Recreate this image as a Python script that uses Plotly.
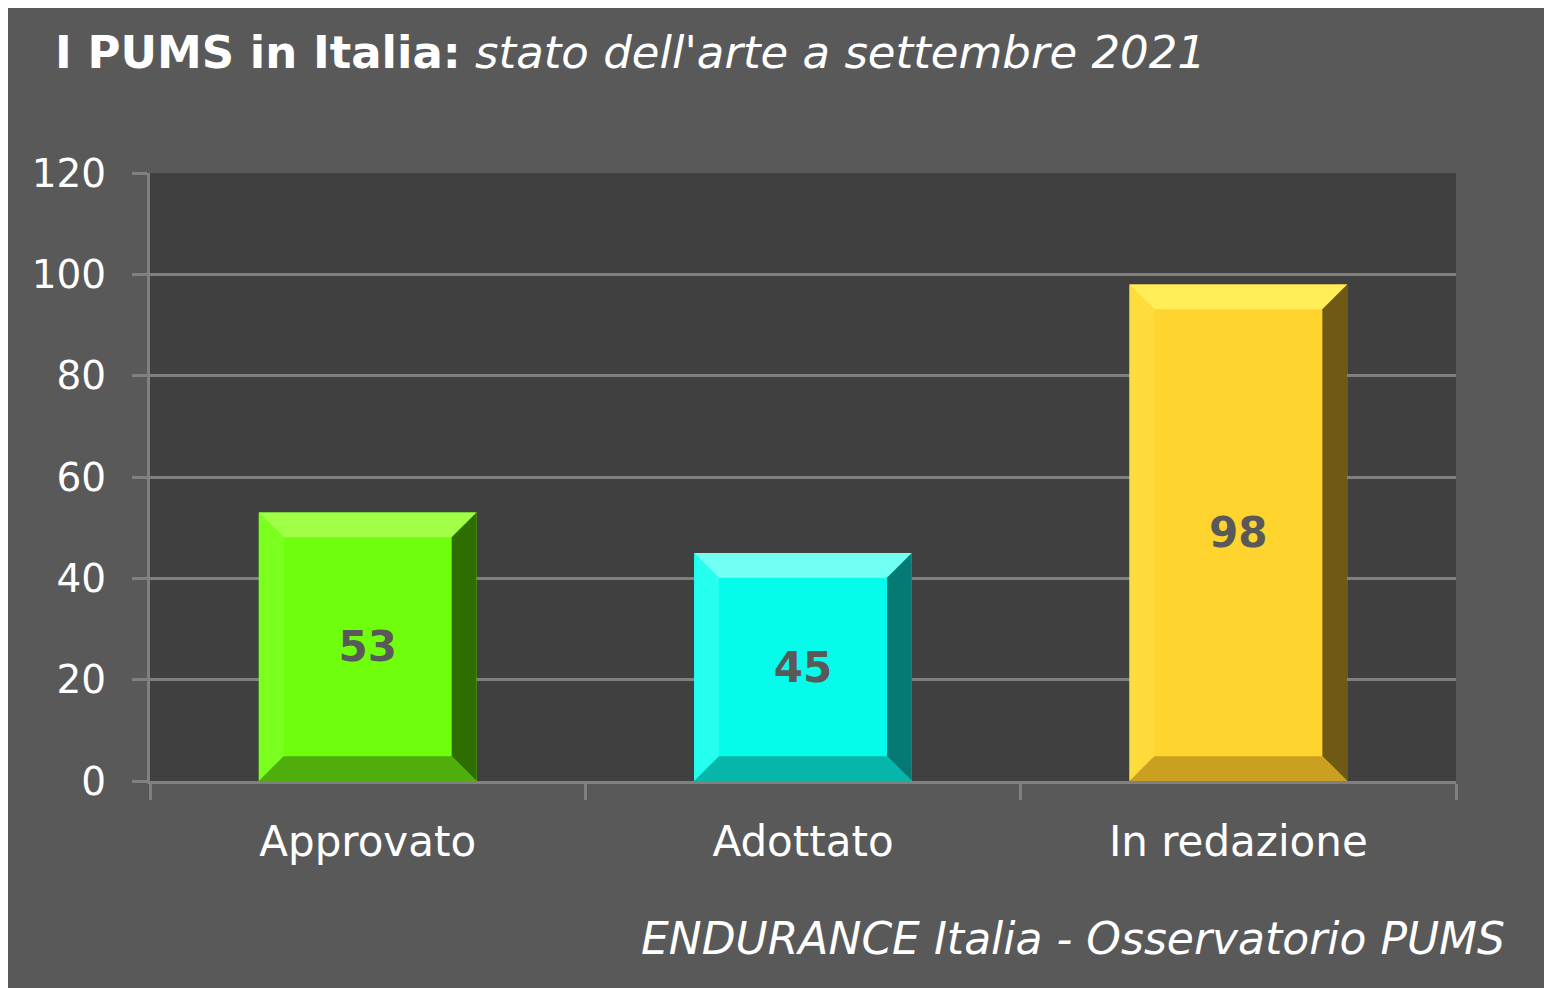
import plotly.graph_objects as go

categories = ["Approvato", "Adottato", "In redazione"]
values = [53, 45, 98]
bar_colors = ["#6FFF0C", "#05FCEA", "#FFD42E"]
top_colors = ["#A2FF48", "#72FFF4", "#FFEE58"]
side_light = ["#7AFF1E", "#25FFF0", "#FFDB3C"]
side_dark = ["#2E6E00", "#057A72", "#6E5A14"]
bottom_colors = ["#4FAE0C", "#06B6AA", "#C9A020"]
y_ticks = [0, 20, 40, 60, 80, 100, 120]

FONT = "DejaVu Sans"
BAR_W = 0.5
W, H = 1544, 980
ML, MR, MT, MB = 142, 96, 165, 207

fig = go.Figure()
fig.add_trace(go.Bar(
    x=categories, y=values, width=BAR_W,
    marker=dict(color=bar_colors, line=dict(width=0)),
    text=[str(v) for v in values], textposition="inside",
    insidetextanchor="middle",
    textfont=dict(family=FONT, size=42, color="#595959", weight="bold"),
    cliponaxis=False,
))

# bevel facets, derived from the data values
bx = 0.057   # horizontal bevel in category units
by = 4.9     # vertical bevel in value units
shapes = []
for i, v in enumerate(values):
    x0, x1 = i - BAR_W / 2, i + BAR_W / 2
    def poly(pts, col):
        d = "M " + " L ".join(f"{px},{py}" for px, py in pts) + " Z"
        return dict(type="path", xref="x", yref="y", path=d,
                    fillcolor=col, line=dict(width=0), layer="above")
    shapes.append(poly([(x0, v), (x1, v), (x1 - bx, v - by), (x0 + bx, v - by)], top_colors[i]))
    shapes.append(poly([(x0, 0), (x0, v), (x0 + bx, v - by), (x0 + bx, by)], side_light[i]))
    shapes.append(poly([(x1, 0), (x1, v), (x1 - bx, v - by), (x1 - bx, by)], side_dark[i]))
    shapes.append(poly([(x0, 0), (x1, 0), (x1 - bx, by), (x0 + bx, by)], bottom_colors[i]))

plot_w = W - ML - MR
plot_h = H - MT - MB

fig.update_layout(
    width=W, height=H,
    paper_bgcolor="#595959", plot_bgcolor="#404040",
    margin=dict(l=ML, r=MR, t=MT, b=MB),
    showlegend=False,
    shapes=shapes,
    font=dict(family=FONT, color="white"),
    title=dict(
        text="<b>I PUMS in Italia:</b> <i>stato dell'arte a settembre 2021</i>",
        x=47 / W, xanchor="left", y=1 - 44 / H, yanchor="middle",
        font=dict(family=FONT, size=45, color="white"),
    ),
    annotations=[dict(
        text="<i>ENDURANCE Italia - Osservatorio PUMS</i>",
        xref="paper", yref="paper", x=1 + 51 / plot_w, y=-(938 - 781) / plot_h,
        xanchor="right", yanchor="middle", showarrow=False,
        font=dict(family=FONT, size=44, color="white"),
    )],
    xaxis=dict(
        type="category", tickson="boundaries", ticks="outside", ticklen=16,
        tickwidth=3, tickcolor="#808080", showline=True, linecolor="#808080",
        linewidth=3, showgrid=False, ticklabelstandoff=22,
        tickfont=dict(family=FONT, size=42, color="white"),
    ),
    yaxis=dict(
        range=[0, 120], tickvals=y_ticks, ticks="outside", ticklen=15,
        tickwidth=3, tickcolor="#808080", showline=True, linecolor="#808080",
        linewidth=3, gridcolor="#808080", gridwidth=3, zeroline=False,
        ticklabelstandoff=18,
        tickfont=dict(family=FONT, size=39, color="white"),
    ),
)

fig.write_html("out.html")
